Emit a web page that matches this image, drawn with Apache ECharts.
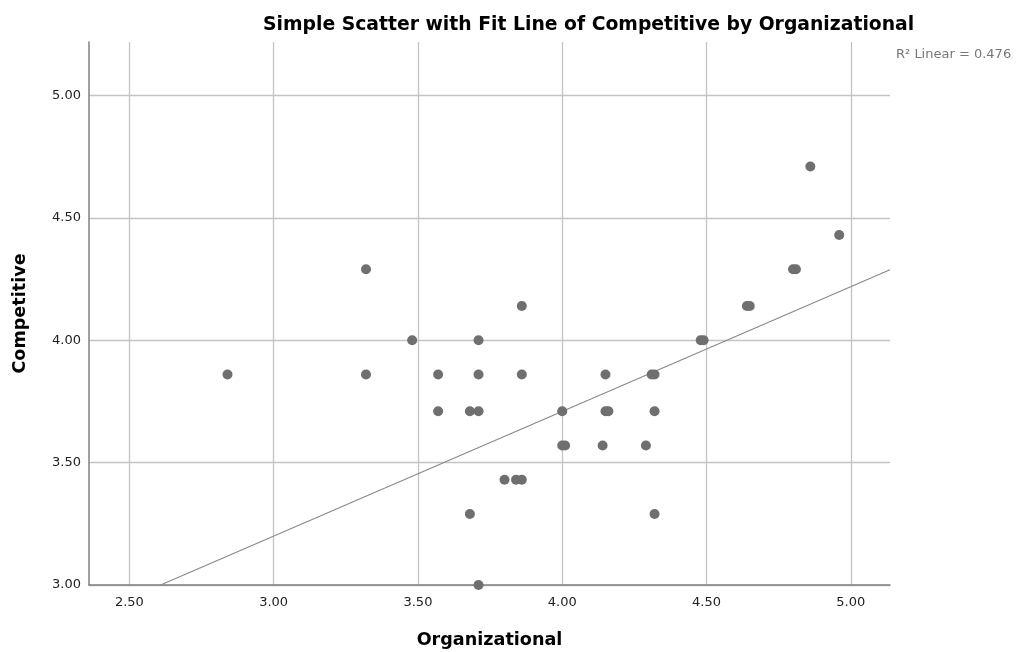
<!DOCTYPE html>
<html>
<head>
<meta charset="utf-8">
<script src="https://cdn.jsdelivr.net/npm/echarts@6/dist/echarts.min.js"></script>
<style>
html,body{margin:0;padding:0;background:#fff;}
#chart{width:1016px;height:652px;}
</style>
</head>
<body>
<div id="chart"></div>
<script>
// Data
const organizational = [2.84, 3.32, 3.32, 3.48, 3.57, 3.57, 3.68, 3.71, 3.71, 3.71, 3.68, 3.71, 3.80, 3.84, 3.86, 3.86, 3.86,
  4.00, 4.00, 4.01, 4.14, 4.15, 4.15, 4.16, 4.29, 4.31, 4.32, 4.32, 4.32, 4.48, 4.49, 4.64, 4.65, 4.80, 4.81, 4.86, 4.96];
const competitive = [3.86, 4.29, 3.86, 4.00, 3.86, 3.71, 3.71, 4.00, 3.86, 3.71, 3.29, 3.00, 3.43, 3.43, 3.43, 4.14, 3.86,
  3.71, 3.57, 3.57, 3.57, 3.86, 3.71, 3.71, 3.57, 3.86, 3.86, 3.71, 3.29, 4.00, 4.00, 4.14, 4.14, 4.29, 4.29, 4.71, 4.43];
const fitX = [2.608, 5.136];
const fitY = [3.000, 4.288];
const xTicks = [2.5, 3.0, 3.5, 4.0, 4.5, 5.0];
const yTicks = [3.0, 3.5, 4.0, 4.5, 5.0];
const r2Label = 'R\u00B2 Linear = 0.476';

const points = organizational.map((x, i) => [x, competitive[i]]);
const fitLine = fitX.map((x, i) => [x, fitY[i]]);

const chart = echarts.init(document.getElementById('chart'), null, {renderer: 'canvas'});
const font = '"DejaVu Sans", Verdana, sans-serif';
chart.setOption({
  animation: false,
  backgroundColor: '#ffffff',
  title: {
    text: 'Simple Scatter with Fit Line of Competitive by Organizational',
    left: 258, top: 11, padding: 5,
    textStyle: {fontFamily: font, fontSize: 18.8, fontWeight: 'bold', color: '#000'}
  },
  graphic: [{
    type: 'text', left: 896, top: 48,
    style: {text: r2Label, font: '13px ' + font, fill: '#777777'}
  }],
  grid: {left: 89, right: 126, top: 42, bottom: 67, containLabel: false, outerBoundsMode: 'none'},
  xAxis: {
    type: 'value', min: 2.36, max: 5.136,
    name: 'Organizational', nameLocation: 'middle', nameGap: 46,
    nameTextStyle: {fontFamily: font, fontSize: 17.6, fontWeight: 'bold', color: '#000'},
    axisLine: {show: true, lineStyle: {color: '#808080', width: 1.5}},
    axisTick: {show: false, customValues: xTicks},
    axisLabel: {customValues: xTicks, margin: 11, fontFamily: font, fontSize: 13, color: '#222',
      formatter: v => v.toFixed(2)},
    splitLine: {show: true, lineStyle: {color: '#c4c4c4', width: 1.3}}
  },
  yAxis: {
    type: 'value', min: 3.0, max: 5.219,
    name: 'Competitive', nameLocation: 'middle', nameGap: 60, nameRotate: 90,
    nameTextStyle: {fontFamily: font, fontSize: 17.6, fontWeight: 'bold', color: '#000'},
    axisLine: {show: true, lineStyle: {color: '#808080', width: 1.5}},
    axisTick: {show: false, customValues: yTicks},
    axisLabel: {customValues: yTicks, margin: 8, fontFamily: font, fontSize: 13, color: '#222',
      formatter: v => v.toFixed(2)},
    splitLine: {show: true, lineStyle: {color: '#c4c4c4', width: 1.3}}
  },
  series: [
    {
      type: 'line', data: fitLine, symbol: 'none', z: 3,
      lineStyle: {color: '#8a8a8a', width: 1.2}
    },
    {
      type: 'scatter', data: points, symbol: 'circle', symbolSize: 10, z: 4,
      itemStyle: {color: '#6f6f6f', opacity: 1}
    }
  ]
});
</script>
</body>
</html>
